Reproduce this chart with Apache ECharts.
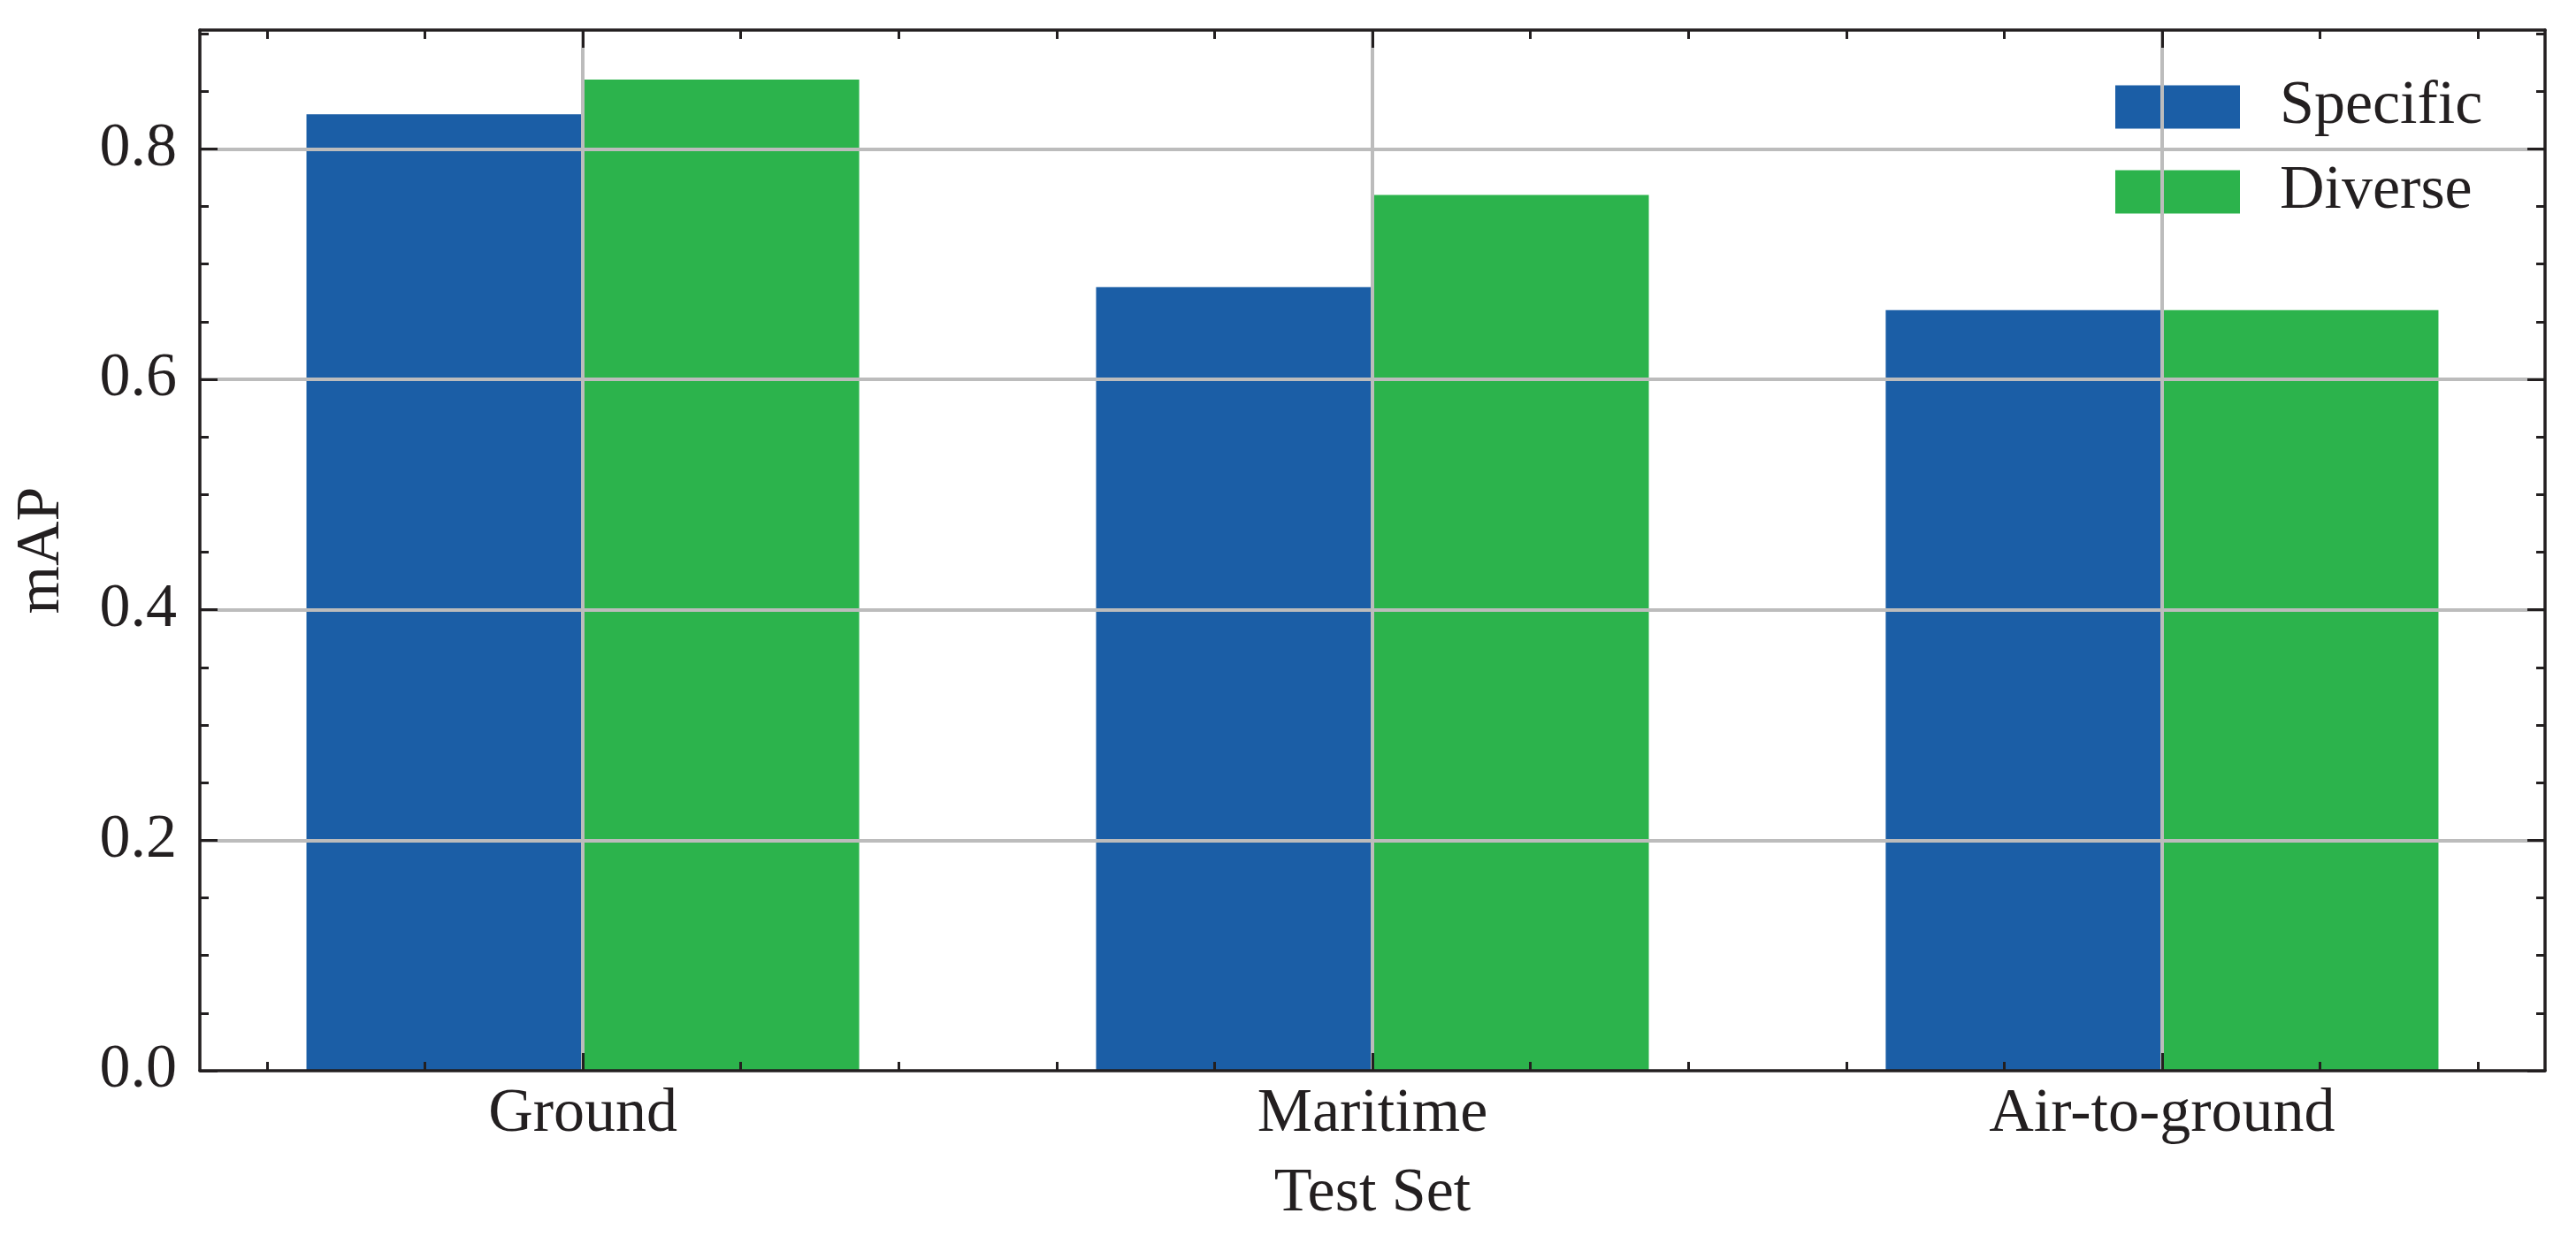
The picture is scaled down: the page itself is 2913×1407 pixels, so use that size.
<!DOCTYPE html>
<html>
<head>
<meta charset="utf-8">
<script src="https://cdn.jsdelivr.net/npm/echarts@6/dist/echarts.min.js"></script>
<style>html,body{margin:0;padding:0;background:#fff}#c{width:2913px;height:1407px}</style>
</head>
<body>
<div id="c"></div>
<script>
// ---- data ----
const categories = ['Ground', 'Maritime', 'Air-to-ground'];
const specific = [0.83, 0.68, 0.66];
const diverse = [0.86, 0.76, 0.66];
const seriesNames = ['Specific', 'Diverse'];
const yTickLabels = [0.0, 0.2, 0.4, 0.6, 0.8];

// ---- layout ----
const W = 2913, H = 1407;
const gridL = 226, gridR = 2878, gridT = 34, gridB = 1211;
const xMin = -0.485, xMax = 2.485, yMin = 0, yMax = 0.903;
const unit = (gridR - gridL) / (xMax - xMin);
const barW = 0.35 * unit;
const FONT = '"Liberation Serif", "DejaVu Serif", serif';
const INK = '#231f20';
const GRIDC = '#bcbcbc';

const xMajor = categories.map((c, i) => i);
const xMinor = [];
for (let k = -2; k <= 12; k++) { const v = +(k * 0.2).toFixed(2); if (Math.abs(v - Math.round(v)) > 1e-9 && v > xMin && v < xMax) xMinor.push(v); }
const yMinor = [];
for (let k = 1; k <= 18; k++) { const v = +(k * 0.05).toFixed(2); if (v < yMax && Math.abs(v * 5 - Math.round(v * 5)) > 1e-9) yMinor.push(v); }

function xAxisDef(pos, vals, len, line, labels) {
  return {
    type: 'value', position: pos, min: xMin, max: xMax, z: 10,
    axisLine: { show: line, onZero: false, lineStyle: { color: INK, width: 3.5 } },
    axisTick: { show: true, inside: true, length: len, customValues: vals, lineStyle: { color: INK, width: 3 } },
    axisLabel: labels ? {
      show: true, customValues: xMajor, margin: 15,
      formatter: v => categories[Math.round(v)],
      fontFamily: FONT, fontSize: 70, color: INK
    } : { show: false },
    splitLine: { show: false },
    name: labels ? 'Test Set' : '',
    nameLocation: 'middle', nameGap: 105,
    nameTextStyle: { fontFamily: FONT, fontSize: 70, color: INK }
  };
}
function yAxisDef(pos, vals, len, line, labels) {
  return {
    type: 'value', position: pos, min: yMin, max: yMax, z: 10,
    axisLine: { show: line, onZero: false, lineStyle: { color: INK, width: 3.5 } },
    axisTick: { show: true, inside: true, length: len, customValues: vals, lineStyle: { color: INK, width: 3 } },
    axisLabel: labels ? {
      show: true, customValues: yTickLabels, margin: 26,
      formatter: v => v.toFixed(1),
      fontFamily: FONT, fontSize: 70, color: INK
    } : { show: false },
    splitLine: { show: false },
    name: labels ? 'mAP' : '',
    nameLocation: 'middle', nameGap: 143,
    nameTextStyle: { fontFamily: FONT, fontSize: 70, color: INK }
  };
}

const gridLines = xMajor.map(v => ({ xAxis: v })).concat(yTickLabels.filter(v => v > 0).map(v => ({ yAxis: v })));

const option = {
  backgroundColor: '#ffffff',
  animation: false,
  grid: { left: gridL, right: W - gridR, top: gridT, bottom: H - gridB, containLabel: false, outerBoundsMode: 'none' },
  legend: {
    orient: 'vertical', left: 2392, top: 86, padding: 0,
    itemWidth: 141, itemHeight: 49, itemGap: 26, icon: 'rect',
    textStyle: { fontFamily: FONT, fontSize: 70, color: INK, padding: [0, 0, 0, 40] },
    data: seriesNames
  },
  xAxis: [
    xAxisDef('bottom', xMajor, 20, true, true),
    xAxisDef('bottom', xMinor, 10, false, false),
    xAxisDef('top', xMajor, 20, true, false),
    xAxisDef('top', xMinor, 10, false, false)
  ],
  yAxis: [
    yAxisDef('left', yTickLabels, 20, true, true),
    yAxisDef('left', yMinor, 10, false, false),
    yAxisDef('right', yTickLabels, 20, true, false),
    yAxisDef('right', yMinor, 10, false, false)
  ],
  series: [
    {
      name: seriesNames[0], type: 'bar', xAxisIndex: 0, yAxisIndex: 0,
      barWidth: barW, barGap: '0%',
      itemStyle: { color: '#1b5ea6' },
      data: specific.map((v, i) => [i, v])
    },
    {
      name: seriesNames[1], type: 'bar', xAxisIndex: 0, yAxisIndex: 0,
      barWidth: barW, barGap: '0%',
      itemStyle: { color: '#2cb34c' },
      data: diverse.map((v, i) => [i, v])
    },
    {
      name: 'grid', type: 'line', xAxisIndex: 0, yAxisIndex: 0, data: [],
      silent: true, z: 5,
      markLine: {
        silent: true, symbol: 'none', z: 5, animation: false,
        label: { show: false },
        lineStyle: { color: GRIDC, width: 4, type: 'solid' },
        emphasis: { disabled: true },
        data: gridLines
      }
    }
  ]
};
echarts.init(document.getElementById('c')).setOption(option);
</script>
</body>
</html>
